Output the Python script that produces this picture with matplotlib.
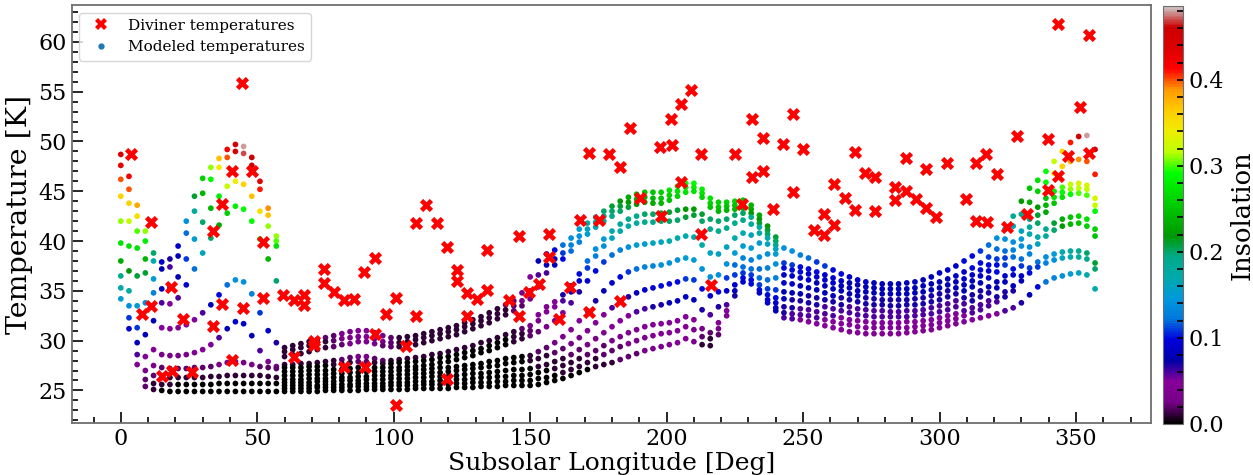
import matplotlib
matplotlib.use("Agg")
import matplotlib.pyplot as plt
from matplotlib.ticker import MultipleLocator
from matplotlib.lines import Line2D
from matplotlib.colors import Normalize

plt.rcParams['font.family'] = ['DejaVu Serif']

# ---------------- Diviner observations ----------------
DIV_LON = [3.7, 7.6, 11.2, 11.2, 15.2, 18.5, 18.9, 22.8, 26.2, 33.8,
           33.8, 37.2, 37.2, 40.8, 40.8, 44.4, 44.7, 48.1, 52.0, 52.0,
           59.3, 63.6, 63.6, 67.3, 67.3, 70.9, 70.9, 74.6, 74.6, 78.2,
           81.9, 81.9, 85.6, 89.2, 89.6, 93.2, 93.2, 97.1, 100.8, 100.8,
           104.5, 108.3, 108.3, 112.0, 115.7, 119.7, 119.7, 123.3, 123.3, 127.0,
           127.0, 130.6, 134.3, 134.3, 142.2, 145.9, 145.9, 149.5, 153.2, 156.9,
           156.9, 160.5, 164.5, 168.2, 171.5, 171.5, 175.1, 178.8, 182.8, 183.1,
           186.5, 190.4, 197.4, 198.1, 201.5, 201.8, 205.1, 205.4, 208.8, 212.7,
           212.7, 216.4, 224.9, 227.8, 231.4, 231.4, 235.5, 235.5, 239.1, 242.8,
           246.4, 246.4, 250.1, 254.1, 257.8, 257.8, 261.4, 261.4, 265.2, 269.0,
           269.0, 272.8, 276.5, 276.5, 283.8, 283.8, 287.7, 287.7, 291.5, 295.2,
           295.2, 298.8, 302.9, 309.8, 313.5, 313.5, 317.2, 317.3, 321.1, 324.8,
           328.4, 332.1, 339.8, 339.8, 343.6, 343.6, 347.2, 351.3, 354.9, 354.9]
DIV_T = [48.7, 32.7, 41.9, 33.5, 26.5, 35.4, 27.0, 32.2, 26.9, 41.0,
         31.5, 43.7, 33.7, 47.0, 28.1, 55.9, 33.3, 47.0, 39.9, 34.3,
         34.6, 34.1, 28.4, 34.6, 33.6, 30.0, 29.6, 37.2, 35.8, 34.9,
         34.1, 27.4, 34.2, 36.9, 27.4, 38.3, 30.7, 32.7, 34.3, 23.5,
         29.5, 41.8, 32.5, 43.6, 41.8, 39.4, 26.2, 37.1, 36.0, 34.8,
         32.5, 34.2, 39.1, 35.1, 34.1, 40.5, 32.5, 34.9, 35.7, 40.7,
         38.4, 32.2, 35.4, 42.1, 48.8, 32.9, 42.1, 48.7, 47.4, 34.0,
         51.4, 44.3, 49.4, 42.5, 52.3, 49.6, 53.8, 45.9, 55.2, 48.7,
         40.7, 35.6, 48.7, 43.7, 52.3, 46.4, 50.3, 47.0, 43.2, 49.7,
         52.8, 44.9, 49.2, 41.1, 42.7, 40.6, 45.7, 41.6, 44.3, 48.9,
         43.1, 46.8, 46.4, 43.0, 45.4, 44.1, 48.3, 45.0, 44.2, 47.2,
         43.3, 42.4, 47.8, 44.2, 47.8, 42.0, 48.7, 41.9, 46.7, 41.4,
         50.6, 42.7, 50.2, 45.1, 46.5, 61.8, 48.5, 53.5, 60.7, 48.8]

# ---------------- Modeled temperatures, segment 1 (0-57 deg) ----------------
SEG1_LON = [0, 3, 6, 9, 12, 15, 18, 21, 24, 27, 30, 33, 36, 39, 42, 45, 48, 51, 54, 57]
SEG1_T = [
    [48.7, 46.5, 43.6, 41.0, 38.8, 37.9, 38.2, 39.5, 42.0, 44.5, 46.3, 47.4, 48.3, 49.2, 49.7, 49.5, 48.4, 46.0, 43.3, 40.5],
    [47.6, 45.2, 42.5, 40.0, 38.0, 37.2, 37.4, 38.5, 40.8, 43.0, 44.8, 46.2, 47.4, 48.4, 49.0, 48.8, 47.6, 45.2, 42.6, 40.0],
    [46.2, 43.8, 41.0, 38.2, 36.2, 35.2, 35.3, 36.4, 38.2, 40.2, 41.9, 43.3, 44.5, 45.5, 46.0, 45.7, 44.5, 43.0, 41.5, 39.5],
    [44.5, 42.0, 39.3, 36.8, 34.8, 33.8, 33.7, 34.3, 35.6, 37.2, 38.8, 40.3, 41.6, 42.8, 43.5, 43.2, 42.0, 40.2, 38.2, 36.0],
    [42.0, 39.5, 36.5, 33.8, 32.0, 31.3, 31.2, 31.3, 31.6, 32.1, 32.8, 33.6, 34.6, 35.6, 36.1, 35.9, 34.7, 32.8, 31.0, 29.8],
    [39.8, 37.0, 33.5, 30.6, 29.1, 28.6, 28.5, 28.5, 28.6, 28.8, 29.1, 29.6, 30.3, 31.2, 31.9, 31.7, 30.5, 29.0, 27.9, 27.4],
    [38.0, 35.0, 31.3, 28.4, 27.5, 27.3, 27.2, 27.2, 27.2, 27.3, 27.3, 27.4, 27.6, 27.8, 27.9, 27.8, 27.6, 27.4, 27.3, 27.2],
    [36.5, 33.5, 29.8, 27.0, 26.5, 26.3, 26.3, 26.3, 26.3, 26.3, 26.3, 26.4, 26.4, 26.5, 26.5, 26.5, 26.5, 26.5, 26.4, 26.3],
    [35.3, 32.3, 28.6, 26.1, 25.7, 25.6, 25.6, 25.6, 25.6, 25.6, 25.6, 25.6, 25.7, 25.7, 25.7, 25.7, 25.7, 25.7, 25.7, 25.7],
    [34.2, 31.2, 27.6, 25.4, 25.1, 25.0, 24.9, 24.9, 24.9, 24.9, 24.9, 24.9, 24.9, 24.9, 24.9, 24.9, 24.9, 24.9, 24.9, 24.9],
]
SEG1_INS = [
    [.44, .42, .38, .31, .20, .09, .07, .09, .14, .21, .26, .31, .37, .42, .45, .48, .46, .43, .39, .31],
    [.43, .40, .35, .28, .17, .08, .06, .08, .12, .18, .24, .29, .34, .40, .44, .47, .45, .41, .37, .30],
    [.40, .36, .30, .24, .15, .08, .06, .08, .11, .15, .20, .24, .28, .32, .34, .36, .37, .35, .31, .27],
    [.36, .32, .27, .21, .13, .06, .05, .06, .09, .12, .16, .20, .23, .26, .28, .29, .29, .27, .24, .20],
    [.31, .27, .21, .14, .08, .05, .04, .04, .05, .05, .06, .08, .10, .12, .14, .14, .13, .11, .09, .07],
    [.27, .22, .15, .08, .04, .03, .03, .03, .03, .04, .04, .05, .06, .08, .09, .09, .08, .06, .04, .03],
    [.23, .18, .11, .05, .03, .02, .02, .02, .02, .02, .02, .02, .03, .03, .03, .03, .03, .02, .02, .02],
    [.19, .14, .08, .03, .02, .01, .01, .01, .01, .01, .01, .01, .01, .01, .01, .01, .01, .01, .01, .01],
    [.17, .11, .06, .02, .01, .01, .01, .00, .00, .00, .00, .00, .00, .00, .00, .00, .00, .00, .00, .00],
    [.15, .09, .04, .02, .01, .00, .00, .00, .00, .00, .00, .00, .00, .00, .00, .00, .00, .00, .00, .00],
]

# ---------------- Modeled temperatures, segment 2 (60-240 deg) ----------------
SEG2_LON = [60, 63, 66, 69, 72, 75, 78, 81, 84, 87, 90, 93, 96, 99, 102, 105, 108, 111, 114, 117,
            120, 123, 126, 129, 132, 135, 138, 141, 144, 147, 150, 153, 156, 159, 162, 165, 168, 171, 174, 177,
            180, 183, 186, 189, 192, 195, 198, 201, 204, 207, 210, 213, 216, 219, 222, 225, 228, 231, 234, 237, 240]
SEG2_T = [
    [29.3, 29.5, 29.7, 29.9, 30.1, 30.3, 30.5, 30.7, 30.9, 31.0, 31.0, 30.8, 30.5, 30.3, 30.3, 30.4, 30.5, 30.7, 30.9, 31.1,
     31.3, 31.5, 31.8, 32.1, 32.4, 32.8, 33.2, 33.6, 34.0, 34.8, 36.4, 38.0, 38.7, 39.1, 39.6, 40.3, 41.2, 41.8, 42.4, 43.0,
     43.5, 44.0, 44.4, 44.7, 44.9, 44.9, 44.9, 45.1, 45.5, 45.8, 45.8, 45.2, 44.3, 43.9, 43.9, 44.0, 44.1, 43.6, 42.6, 41.5, 40.4],
    [28.9, 29.1, 29.3, 29.5, 29.7, 29.9, 30.0, 30.2, 30.3, 30.4, 30.4, 30.2, 29.9, 29.8, 29.8, 29.9, 30.1, 30.3, 30.5, 30.7,
     30.9, 31.1, 31.4, 31.7, 32.0, 32.3, 32.7, 33.1, 33.5, 34.0, 35.0, 36.6, 37.6, 38.2, 38.8, 39.6, 40.5, 41.2, 41.9, 42.5,
     43.0, 43.5, 43.9, 44.2, 44.4, 44.3, 44.3, 44.6, 45.0, 45.4, 45.4, 44.8, 43.8, 43.4, 43.5, 43.6, 43.7, 43.2, 42.2, 41.1, 40.0],
    [28.4, 28.6, 28.7, 28.9, 29.1, 29.3, 29.4, 29.6, 29.7, 29.9, 29.9, 29.7, 29.5, 29.4, 29.4, 29.5, 29.6, 29.8, 30.0, 30.2,
     30.4, 30.6, 30.9, 31.2, 31.5, 31.8, 32.2, 32.6, 33.0, 33.5, 34.2, 35.4, 36.8, 37.6, 38.2, 39.0, 39.9, 40.7, 41.4, 42.0,
     42.5, 43.0, 43.4, 43.7, 43.9, 43.8, 43.8, 44.1, 44.5, 44.9, 45.0, 44.4, 43.4, 43.0, 43.1, 43.2, 43.3, 42.8, 41.8, 40.7, 39.6],
    [27.6, 27.6, 27.7, 27.7, 27.8, 27.9, 28.0, 28.1, 28.3, 28.4, 28.4, 28.2, 28.0, 28.0, 28.1, 28.2, 28.3, 28.4, 28.6, 28.7,
     28.9, 29.1, 29.3, 29.5, 29.8, 30.0, 30.3, 30.6, 30.9, 31.2, 31.5, 32.6, 33.4, 33.9, 34.6, 35.5, 36.7, 38.0, 39.2, 40.2,
     41.0, 41.7, 42.2, 42.5, 42.7, 42.7, 42.8, 42.9, 43.1, 43.2, 43.2, 42.7, 42.2, 42.0, 42.2, 42.6, 42.8, 42.4, 41.4, 40.3, 39.2],
    [27.3, 27.3, 27.3, 27.4, 27.4, 27.5, 27.6, 27.7, 27.8, 27.9, 27.9, 27.8, 27.7, 27.7, 27.8, 27.8, 27.9, 28.0, 28.1, 28.3,
     28.4, 28.6, 28.8, 29.0, 29.2, 29.5, 29.8, 30.1, 30.4, 30.7, 31.0, 32.0, 32.9, 33.4, 34.0, 34.9, 36.0, 37.3, 38.5, 39.5,
     40.3, 41.0, 41.5, 41.8, 41.9, 41.9, 42.0, 42.0, 42.1, 42.4, 42.6, 42.0, 41.2, 41.0, 41.3, 41.8, 42.1, 41.7, 40.8, 39.7, 38.7],
    [26.9, 26.9, 26.9, 27.0, 27.0, 27.0, 27.1, 27.1, 27.2, 27.3, 27.4, 27.3, 27.3, 27.3, 27.3, 27.4, 27.4, 27.5, 27.6, 27.8,
     27.9, 28.1, 28.3, 28.5, 28.8, 29.0, 29.3, 29.6, 29.9, 30.2, 30.5, 30.9, 31.4, 32.0, 32.8, 33.8, 34.9, 36.0, 37.0, 37.9,
     38.6, 39.1, 39.4, 39.6, 39.7, 39.8, 39.9, 40.0, 40.3, 40.5, 40.4, 39.6, 38.8, 38.7, 39.4, 40.3, 40.8, 40.6, 39.8, 38.7, 37.7],
    [26.5, 26.5, 26.5, 26.6, 26.6, 26.6, 26.7, 26.7, 26.8, 26.8, 26.9, 26.9, 26.9, 26.9, 27.0, 27.0, 27.1, 27.1, 27.2, 27.3,
     27.3, 27.4, 27.5, 27.6, 27.7, 27.9, 28.0, 28.2, 28.3, 28.4, 28.5, 28.9, 29.3, 29.8, 30.4, 31.1, 32.0, 33.0, 34.0, 35.0,
     35.8, 36.4, 36.9, 37.2, 37.4, 37.5, 37.6, 37.8, 38.1, 38.3, 38.1, 37.2, 36.4, 36.6, 37.7, 38.8, 39.5, 39.3, 38.4, 37.3, 36.3],
    [26.1, 26.1, 26.1, 26.2, 26.2, 26.2, 26.3, 26.3, 26.3, 26.4, 26.4, 26.5, 26.5, 26.5, 26.6, 26.6, 26.7, 26.7, 26.8, 26.8,
     26.9, 27.0, 27.1, 27.2, 27.3, 27.4, 27.5, 27.7, 27.8, 27.9, 28.0, 28.2, 28.5, 28.8, 29.2, 29.7, 30.3, 31.0, 31.8, 32.6,
     33.3, 33.9, 34.4, 34.8, 35.1, 35.3, 35.5, 35.7, 35.9, 36.2, 36.1, 35.2, 34.5, 34.9, 36.3, 37.6, 38.3, 38.1, 37.2, 36.1, 35.1],
    [25.8, 25.8, 25.8, 25.8, 25.9, 25.9, 25.9, 26.0, 26.0, 26.0, 26.1, 26.1, 26.1, 26.2, 26.2, 26.2, 26.3, 26.3, 26.4, 26.4,
     26.4, 26.5, 26.6, 26.7, 26.7, 26.8, 26.9, 27.0, 27.1, 27.1, 27.2, 27.4, 27.6, 27.9, 28.2, 28.6, 29.1, 29.6, 30.2, 30.8,
     31.4, 32.0, 32.5, 32.9, 33.2, 33.4, 33.6, 33.8, 34.0, 34.4, 34.1, 33.1, 32.6, 33.4, 35.0, 36.6, 37.4, 37.2, 36.3, 35.2, 34.3],
    [25.5, 25.5, 25.5, 25.5, 25.5, 25.6, 25.6, 25.6, 25.6, 25.7, 25.7, 25.7, 25.7, 25.8, 25.8, 25.8, 25.9, 25.9, 25.9, 26.0,
     26.0, 26.1, 26.1, 26.2, 26.3, 26.3, 26.4, 26.4, 26.5, 26.5, 26.6, 26.8, 27.0, 27.2, 27.5, 27.8, 28.2, 28.6, 29.0, 29.5,
     30.0, 30.4, 30.8, 31.1, 31.4, 31.6, 31.7, 31.8, 32.0, 32.4, 32.1, 31.2, 30.8, 31.8, 33.6, 35.6, 36.8, 36.6, 35.6, 34.6, 33.8],
    [25.2, 25.2, 25.2, 25.2, 25.3, 25.3, 25.3, 25.3, 25.4, 25.4, 25.4, 25.4, 25.4, 25.5, 25.5, 25.5, 25.5, 25.6, 25.6, 25.6,
     25.6, 25.7, 25.7, 25.8, 25.8, 25.8, 25.9, 25.9, 26.0, 26.0, 26.0, 26.2, 26.3, 26.5, 26.8, 27.1, 27.4, 27.8, 28.2, 28.6,
     29.0, 29.4, 29.7, 30.0, 30.3, 30.5, 30.7, 30.8, 31.0, 31.4, 31.1, 30.4, 30.2, 31.2, 33.0, 35.0, 36.3, 36.1, 35.1, 34.1, 33.3],
    [24.9, 24.9, 24.9, 24.9, 24.9, 25.0, 25.0, 25.0, 25.0, 25.0, 25.1, 25.1, 25.1, 25.1, 25.1, 25.1, 25.2, 25.2, 25.2, 25.2,
     25.2, 25.3, 25.3, 25.3, 25.4, 25.4, 25.4, 25.5, 25.5, 25.5, 25.5, 25.6, 25.8, 26.0, 26.2, 26.5, 26.8, 27.1, 27.4, 27.6,
     27.8, 28.1, 28.4, 28.7, 29.0, 29.2, 29.4, 29.6, 29.8, 30.2, 29.9, 29.6, 29.5, 30.6, 32.5, 34.5, 35.9, 35.7, 34.8, 33.8, 33.0],
]
SEG2_INS = [
    [.01, .01, .01, .01, .01, .02, .02, .03, .03, .04, .04, .04, .03, .02, .01, .01, .01, .01, .01, .01,
     .01, .01, .01, .01, .01, .01, .01, .02, .02, .03, .05, .08, .09, .10, .12, .14, .15, .17, .18, .20,
     .21, .22, .23, .24, .25, .25, .26, .27, .28, .29, .29, .28, .27, .26, .26, .26, .25, .24, .23, .22, .21],
    [.01, .01, .01, .01, .01, .01, .02, .03, .03, .03, .04, .03, .03, .02, .01, .01, .01, .01, .01, .01,
     .01, .01, .01, .01, .01, .01, .01, .01, .02, .03, .04, .06, .08, .09, .11, .13, .14, .16, .17, .19,
     .20, .21, .22, .23, .24, .24, .25, .26, .27, .28, .28, .27, .26, .25, .25, .25, .24, .23, .22, .21, .20],
    [.01, .01, .01, .01, .01, .01, .02, .02, .03, .03, .03, .03, .02, .02, .01, .01, .01, .01, .01, .01,
     .01, .01, .01, .01, .01, .01, .01, .01, .02, .02, .03, .05, .06, .08, .10, .12, .13, .15, .16, .18,
     .19, .20, .21, .22, .23, .23, .24, .25, .26, .27, .27, .26, .25, .24, .24, .24, .23, .22, .21, .20, .19],
    [.01, .01, .01, .01, .01, .01, .01, .02, .02, .03, .03, .02, .02, .01, .01, .01, .01, .01, .01, .01,
     .01, .01, .01, .01, .01, .01, .01, .01, .01, .02, .03, .04, .04, .05, .07, .09, .10, .12, .14, .15,
     .17, .18, .19, .19, .20, .20, .21, .21, .21, .22, .22, .21, .20, .20, .20, .20, .20, .19, .18, .17, .16],
    [.00, .00, .00, .00, .00, .00, .01, .01, .01, .02, .02, .01, .01, .00, .00, .00, .00, .00, .00, .00,
     .00, .00, .00, .00, .00, .00, .00, .00, .01, .01, .02, .03, .04, .05, .06, .08, .09, .11, .13, .14,
     .16, .17, .18, .18, .19, .19, .20, .20, .20, .21, .21, .20, .19, .19, .19, .19, .19, .18, .17, .16, .15],
    [.00, .00, .00, .00, .00, .00, .00, .00, .00, .00, .00, .00, .00, .00, .00, .00, .00, .00, .00, .00,
     .00, .00, .00, .00, .00, .00, .00, .00, .01, .01, .02, .02, .03, .04, .05, .06, .07, .09, .10, .11,
     .12, .13, .14, .15, .15, .16, .16, .17, .17, .17, .17, .17, .16, .16, .16, .17, .17, .16, .15, .14, .14],
    [.00, .00, .00, .00, .00, .00, .00, .00, .00, .00, .00, .00, .00, .00, .00, .00, .00, .00, .00, .00,
     .00, .00, .00, .00, .00, .00, .00, .00, .00, .00, .01, .02, .02, .03, .03, .04, .05, .06, .07, .08,
     .09, .10, .11, .12, .13, .13, .14, .14, .14, .15, .15, .14, .14, .14, .14, .15, .15, .15, .14, .13, .13],
    [.00, .00, .00, .00, .00, .00, .00, .00, .00, .00, .00, .00, .00, .00, .00, .00, .00, .00, .00, .00,
     .00, .00, .00, .00, .00, .00, .00, .00, .00, .00, .01, .01, .01, .02, .02, .03, .03, .04, .04, .05,
     .06, .06, .07, .08, .09, .09, .10, .10, .10, .11, .11, .10, .09, .10, .11, .12, .13, .13, .12, .12, .11],
    [.00, .00, .00, .00, .00, .00, .00, .00, .00, .00, .00, .00, .00, .00, .00, .00, .00, .00, .00, .00,
     .00, .00, .00, .00, .00, .00, .00, .00, .00, .00, .00, .01, .01, .01, .01, .02, .02, .03, .03, .04,
     .04, .05, .05, .06, .06, .07, .07, .08, .08, .09, .08, .07, .06, .07, .09, .11, .12, .12, .12, .11, .10],
    [.00, .00, .00, .00, .00, .00, .00, .00, .00, .00, .00, .00, .00, .00, .00, .00, .00, .00, .00, .00,
     .00, .00, .00, .00, .00, .00, .00, .00, .00, .00, .00, .00, .00, .01, .01, .01, .01, .02, .02, .02,
     .03, .03, .03, .04, .04, .04, .05, .05, .05, .05, .04, .03, .02, .04, .06, .09, .11, .11, .11, .10, .09],
    [.00, .00, .00, .00, .00, .00, .00, .00, .00, .00, .00, .00, .00, .00, .00, .00, .00, .00, .00, .00,
     .00, .00, .00, .00, .00, .00, .00, .00, .00, .00, .00, .00, .00, .00, .01, .01, .01, .01, .01, .02,
     .02, .02, .03, .03, .03, .04, .04, .04, .04, .04, .03, .02, .01, .03, .05, .08, .10, .10, .10, .09, .08],
    [.00, .00, .00, .00, .00, .00, .00, .00, .00, .00, .00, .00, .00, .00, .00, .00, .00, .00, .00, .00,
     .00, .00, .00, .00, .00, .00, .00, .00, .00, .00, .00, .00, .00, .00, .00, .00, .00, .00, .01, .01,
     .01, .02, .02, .02, .03, .03, .03, .04, .04, .04, .03, .01, .01, .02, .04, .07, .09, .10, .09, .09, .08],
]

# ---------------- Modeled temperatures, segment 3 (243-357 deg) ----------------
SEG3_LON = [243, 246, 249, 252, 255, 258, 261, 264, 267, 270, 273, 276, 279, 282, 285, 288, 291, 294, 297, 300,
            303, 306, 309, 312, 315, 318, 321, 324, 327, 330, 333, 336, 339, 342, 345, 348, 351, 354, 357]
SEG3_T = [
    [39.3, 39.0, 38.6, 38.3, 37.9, 37.5, 37.1, 36.7, 36.4, 36.1, 35.9, 35.8, 35.7, 35.7, 35.7, 35.8, 35.9, 36.1, 36.4, 36.8,
     37.1, 37.5, 38.0, 38.5, 39.0, 39.6, 40.3, 41.2, 42.5, 44.0, 45.3, 46.1, 47.0, 48.0, 49.0, 49.9, 50.5, 50.6, 49.2],
    [37.8, 37.6, 37.4, 37.2, 36.9, 36.6, 36.3, 36.0, 35.8, 35.6, 35.4, 35.3, 35.2, 35.2, 35.2, 35.2, 35.3, 35.5, 35.7, 35.9,
     36.2, 36.5, 36.9, 37.3, 37.8, 38.4, 39.2, 40.2, 41.5, 42.7, 43.9, 45.0, 45.9, 46.8, 47.5, 48.0, 48.2, 48.0, 46.7],
    [37.3, 37.1, 36.9, 36.7, 36.4, 36.1, 35.8, 35.5, 35.3, 35.0, 34.9, 34.8, 34.7, 34.7, 34.7, 34.7, 34.8, 34.9, 35.1, 35.3,
     35.6, 35.9, 36.2, 36.6, 37.1, 37.6, 38.2, 39.0, 39.9, 41.0, 42.2, 43.4, 44.3, 45.0, 45.4, 45.7, 45.8, 45.6, 44.3],
    [36.6, 36.5, 36.3, 36.1, 35.8, 35.5, 35.2, 35.0, 34.7, 34.5, 34.3, 34.2, 34.1, 34.1, 34.1, 34.1, 34.2, 34.3, 34.5, 34.7,
     35.0, 35.3, 35.6, 36.0, 36.5, 37.0, 37.6, 38.3, 39.1, 40.2, 41.4, 42.6, 43.6, 44.4, 44.9, 45.2, 45.3, 45.2, 43.6],
    [35.8, 35.7, 35.5, 35.3, 35.1, 34.8, 34.5, 34.3, 34.1, 33.9, 33.7, 33.6, 33.6, 33.5, 33.5, 33.6, 33.6, 33.7, 33.9, 34.1,
     34.4, 34.7, 35.0, 35.4, 35.8, 36.3, 36.9, 37.6, 38.4, 39.5, 40.7, 41.8, 42.9, 43.8, 44.4, 44.7, 44.8, 44.6, 43.0],
    [34.9, 34.8, 34.7, 34.5, 34.3, 34.1, 33.9, 33.6, 33.4, 33.2, 33.1, 33.0, 33.0, 32.9, 32.9, 33.0, 33.0, 33.1, 33.3, 33.5,
     33.7, 34.0, 34.3, 34.6, 35.0, 35.4, 35.9, 36.5, 37.2, 38.2, 39.4, 40.4, 41.2, 41.8, 42.2, 42.4, 42.5, 42.2, 41.2],
    [34.2, 34.1, 34.0, 33.8, 33.6, 33.4, 33.2, 33.0, 32.8, 32.6, 32.5, 32.4, 32.4, 32.4, 32.4, 32.4, 32.5, 32.6, 32.7, 32.9,
     33.1, 33.4, 33.7, 34.0, 34.4, 34.8, 35.3, 35.9, 36.6, 37.5, 38.7, 39.7, 40.5, 41.1, 41.5, 41.7, 41.8, 41.5, 40.5],
    [33.4, 33.3, 33.2, 33.1, 32.9, 32.7, 32.5, 32.3, 32.1, 32.0, 31.9, 31.8, 31.8, 31.8, 31.8, 31.9, 31.9, 32.0, 32.1, 32.3,
     32.5, 32.7, 33.0, 33.3, 33.6, 34.0, 34.4, 34.9, 35.5, 36.5, 37.3, 37.9, 38.4, 38.7, 38.9, 39.0, 39.0, 38.8, 37.8],
    [32.8, 32.7, 32.6, 32.5, 32.3, 32.1, 31.9, 31.7, 31.6, 31.4, 31.3, 31.3, 31.3, 31.3, 31.3, 31.3, 31.4, 31.5, 31.6, 31.8,
     32.0, 32.2, 32.5, 32.8, 33.1, 33.5, 33.9, 34.4, 35.0, 36.0, 36.8, 37.4, 37.8, 38.1, 38.3, 38.4, 38.4, 38.2, 37.2],
    [32.3, 32.2, 32.1, 31.9, 31.7, 31.5, 31.3, 31.1, 30.9, 30.8, 30.7, 30.7, 30.7, 30.7, 30.7, 30.8, 30.9, 31.0, 31.1, 31.3,
     31.5, 31.7, 31.9, 32.1, 32.3, 32.5, 32.7, 33.0, 33.3, 33.8, 34.6, 35.4, 35.9, 36.3, 36.5, 36.7, 36.8, 36.6, 35.2],
]
SEG3_INS = [
    [.14, .14, .13, .12, .11, .11, .10, .10, .09, .09, .09, .08, .08, .08, .08, .08, .08, .08, .08, .09,
     .09, .09, .10, .10, .11, .12, .14, .16, .19, .22, .25, .27, .29, .32, .36, .41, .45, .48, .46],
    [.11, .11, .10, .10, .10, .09, .09, .09, .08, .08, .08, .08, .08, .08, .08, .08, .08, .08, .08, .08,
     .08, .09, .09, .10, .10, .11, .12, .14, .16, .19, .23, .26, .29, .33, .36, .38, .39, .40, .41],
    [.10, .10, .10, .09, .09, .09, .09, .08, .08, .08, .08, .08, .08, .08, .08, .08, .08, .08, .08, .08,
     .08, .08, .09, .09, .10, .10, .11, .12, .14, .16, .19, .22, .25, .28, .30, .32, .33, .33, .33],
    [.09, .09, .09, .09, .08, .08, .08, .08, .08, .08, .07, .07, .07, .07, .07, .07, .07, .07, .07, .07,
     .07, .08, .08, .08, .09, .09, .10, .11, .13, .15, .18, .21, .24, .27, .29, .31, .32, .32, .32],
    [.09, .09, .08, .08, .08, .08, .08, .07, .07, .07, .07, .07, .07, .07, .07, .07, .07, .07, .07, .07,
     .07, .07, .08, .08, .08, .09, .10, .11, .12, .14, .17, .20, .23, .25, .27, .29, .30, .30, .29],
    [.08, .08, .08, .07, .07, .07, .07, .07, .06, .06, .06, .06, .06, .06, .06, .06, .06, .06, .06, .06,
     .06, .06, .07, .07, .07, .08, .08, .09, .10, .12, .14, .17, .19, .21, .23, .25, .26, .27, .26],
    [.08, .07, .07, .07, .07, .06, .06, .06, .06, .06, .06, .06, .06, .06, .06, .06, .06, .06, .06, .06,
     .06, .06, .06, .07, .07, .07, .08, .08, .09, .11, .13, .16, .18, .20, .22, .24, .25, .26, .25],
    [.07, .07, .06, .06, .06, .06, .06, .05, .05, .05, .05, .05, .05, .05, .05, .05, .05, .05, .05, .05,
     .05, .05, .06, .06, .06, .06, .07, .07, .08, .09, .11, .12, .14, .15, .17, .18, .19, .20, .21],
    [.07, .06, .06, .06, .06, .05, .05, .05, .05, .05, .05, .05, .05, .05, .05, .05, .05, .05, .05, .05,
     .05, .05, .05, .06, .06, .06, .06, .07, .07, .08, .10, .11, .13, .14, .16, .17, .18, .19, .20],
    [.06, .06, .05, .05, .05, .05, .05, .05, .04, .04, .04, .04, .04, .04, .04, .04, .04, .04, .04, .04,
     .04, .04, .05, .05, .05, .05, .05, .06, .06, .07, .08, .10, .12, .13, .14, .15, .16, .17, .17],
]

# ---------------- assemble modeled points ----------------
mod_lon, mod_t, mod_ins = [], [], []
for seg_lon, seg_t, seg_i in [(SEG1_LON, SEG1_T, SEG1_INS),
                              (SEG2_LON, SEG2_T, SEG2_INS),
                              (SEG3_LON, SEG3_T, SEG3_INS)]:
    for tc, ic in zip(seg_t, seg_i):
        mod_lon.extend(seg_lon)
        mod_t.extend(tc)
        mod_ins.extend(ic)

# ---------------- figure ----------------
fig = plt.figure(figsize=(12.53, 4.75), dpi=100)
ax = fig.add_axes([0.0572, 0.1088, 0.8614, 0.8806])
cax = fig.add_axes([0.9284, 0.1074, 0.016, 0.8806])

norm = Normalize(vmin=0.0, vmax=0.486)
sc = ax.scatter(mod_lon, mod_t, c=mod_ins, cmap='nipy_spectral', norm=norm,
                s=17, linewidths=0, zorder=2)
ax.scatter(DIV_LON, DIV_T, marker='X', color='red', s=90, linewidths=0, zorder=3)

ax.set_xlim(-18, 377.5)
ax.set_ylim(21.7, 63.7)
ax.xaxis.set_major_locator(MultipleLocator(50))
ax.xaxis.set_minor_locator(MultipleLocator(10))
ax.yaxis.set_major_locator(MultipleLocator(5))
ax.yaxis.set_minor_locator(MultipleLocator(1))
ax.tick_params(which='both', direction='in', top=False, right=False, labelsize=16, width=1.2)
ax.tick_params(which='major', length=8)
ax.tick_params(which='minor', length=4)
for sp in ax.spines.values():
    sp.set_color('#6e6e6e')
    sp.set_linewidth(1.3)

ax.set_xlabel('Subsolar Longitude [Deg]', fontsize=18, labelpad=1)
ax.set_ylabel('Temperature [K]', fontsize=20.5, labelpad=4)

handles = [Line2D([], [], marker='X', color='red', linestyle='None', markersize=9, markeredgewidth=0),
           Line2D([], [], marker='o', color='#1f77b4', linestyle='None', markersize=3.5)]
ax.legend(handles, ['Diviner temperatures', 'Modeled temperatures'], loc='upper left',
          fontsize=11, framealpha=0.8, borderaxespad=0.5)

cb = fig.colorbar(sc, cax=cax)
cb.set_ticks([0.0, 0.1, 0.2, 0.3, 0.4])
cb.ax.yaxis.set_minor_locator(MultipleLocator(0.02))
cb.ax.tick_params(which='both', direction='in', length=4, width=1.2, labelsize=16)
cb.outline.set_edgecolor('#6e6e6e')
cb.set_label('Insolation', fontsize=18.5)

fig.savefig('out.png', dpi=100)
